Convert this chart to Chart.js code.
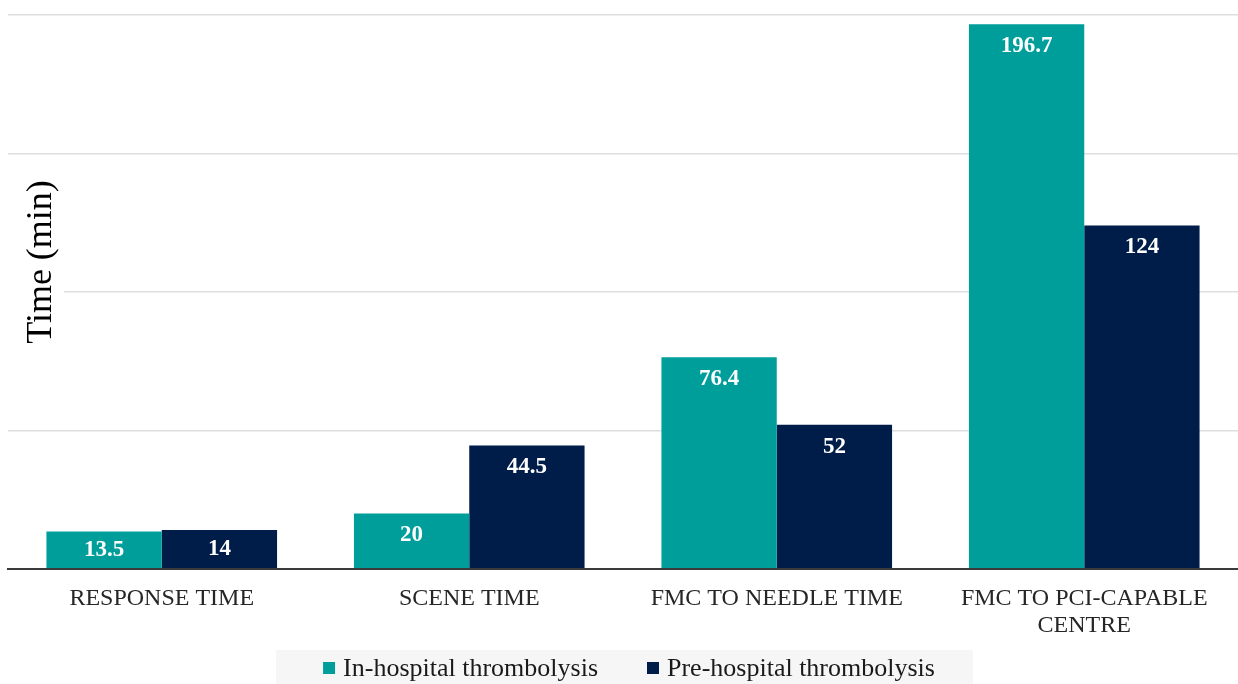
<!DOCTYPE html>
<html>
<head>
<meta charset="utf-8">
<script src="https://cdn.jsdelivr.net/npm/chart.js@4.4.1/dist/chart.umd.min.js"></script>
<style>
  html, body { margin: 0; padding: 0; background: #ffffff; }
  #wrap { width: 1238px; height: 684px; position: relative; }
</style>
</head>
<body>
<div id="wrap"><canvas id="chart"></canvas></div>
<script>
// Time intervals (minutes) for each stage of care
const categories = [
  'RESPONSE TIME',
  'SCENE TIME',
  'FMC TO NEEDLE TIME',
  ['FMC TO PCI-CAPABLE', 'CENTRE']
];
const inHospital = [13.5, 20, 76.4, 196.7];
const preHospital = [14, 44.5, 52, 124];
const seriesNames = ['In-hospital thrombolysis', 'Pre-hospital thrombolysis'];
const yTicks = { min: 0, max: 200, step: 50 };
const yTitle = 'Time (min)';

const TEAL = '#009e9b';
const NAVY = '#001d49';
const SERIF = '"Liberation Serif", "Times New Roman", serif';

// Axis title drawn over the plot on a white patch, covering the gridline behind it
const yTitlePlugin = {
  id: 'yTitleOverlay',
  beforeDatasetsDraw(chart) {
    const ctx = chart.ctx;
    ctx.save();
    ctx.font = '36px ' + SERIF;
    const w = ctx.measureText(yTitle).width;
    const cx = 42, cy = 262;
    ctx.fillStyle = '#ffffff';
    ctx.fillRect(chart.chartArea.left, cy - w / 2 - 6, 64 - chart.chartArea.left, w + 12);
    ctx.translate(cx, cy);
    ctx.rotate(-Math.PI / 2);
    ctx.fillStyle = '#000000';
    ctx.textAlign = 'center';
    ctx.textBaseline = 'middle';
    ctx.fillText(yTitle, 0, 0);
    ctx.restore();
  }
};

// Value labels inside the top of each bar (centred in short bars)
const barLabelPlugin = {
  id: 'barLabels',
  afterDatasetsDraw(chart) {
    const ctx = chart.ctx;
    ctx.save();
    ctx.font = 'bold 23px ' + SERIF;
    ctx.fillStyle = '#ffffff';
    ctx.textAlign = 'center';
    ctx.textBaseline = 'middle';
    chart.data.datasets.forEach((ds, di) => {
      chart.getDatasetMeta(di).data.forEach((bar, i) => {
        const v = ds.data[i];
        const y = Math.min(bar.y + 22, (bar.y + bar.base) / 2);
        ctx.fillText(String(v), bar.x, y);
      });
    });
    ctx.restore();
  }
};

// Legend row on a light grey band, built from the dataset labels and colours
const legendRowPlugin = {
  id: 'legendRow',
  afterDraw(chart) {
    const ctx = chart.ctx;
    const sq = 12, txtGap = 8, itemGap = 49;
    const cy = 668;
    ctx.save();
    ctx.font = '26px ' + SERIF;
    const items = chart.data.datasets.map(ds => ({
      text: ds.label, color: ds.backgroundColor, w: ctx.measureText(ds.label).width
    }));
    const total = items.reduce((s, it) => s + sq + txtGap + it.w, 0) + itemGap * (items.length - 1);
    let x = chart.width / 2 + 10 - total / 2;
    ctx.fillStyle = '#f6f6f6';
    ctx.fillRect(x - 47, cy - 18, total + 47 + 38, chart.height - (cy - 18));
    ctx.textBaseline = 'middle';
    ctx.textAlign = 'left';
    items.forEach(it => {
      ctx.fillStyle = it.color;
      ctx.fillRect(x, cy - sq / 2, sq, sq);
      x += sq + txtGap;
      ctx.fillStyle = '#1a1a1a';
      ctx.fillText(it.text, x, cy + 1);
      x += it.w + itemGap;
    });
    ctx.restore();
  }
};

new Chart(document.getElementById('chart'), {
  type: 'bar',
  data: {
    labels: categories,
    datasets: [
      { label: seriesNames[0], data: inHospital, backgroundColor: TEAL },
      { label: seriesNames[1], data: preHospital, backgroundColor: NAVY }
    ]
  },
  options: {
    responsive: true,
    maintainAspectRatio: false,
    animation: false,
    layout: { padding: { left: 8, right: 0, top: 15, bottom: 29 } },
    datasets: {
      bar: { categoryPercentage: 0.75, barPercentage: 1.0 }
    },
    scales: {
      x: {
        grid: { display: false, drawTicks: false },
        border: { display: true, color: '#3a3a3a', width: 2 },
        ticks: {
          font: { family: SERIF, size: 24, lineHeight: 1.13 },
          color: '#262626',
          padding: 16,
          maxRotation: 0,
          autoSkip: false
        }
      },
      y: {
        min: yTicks.min,
        max: yTicks.max,
        ticks: { display: false, stepSize: yTicks.step },
        grid: { color: '#dedede', lineWidth: 1.5, drawTicks: false },
        border: { display: false }
      }
    },
    plugins: {
      tooltip: { enabled: false },
      legend: { display: false }
    }
  },
  plugins: [yTitlePlugin, barLabelPlugin, legendRowPlugin]
});
</script>
</body>
</html>
